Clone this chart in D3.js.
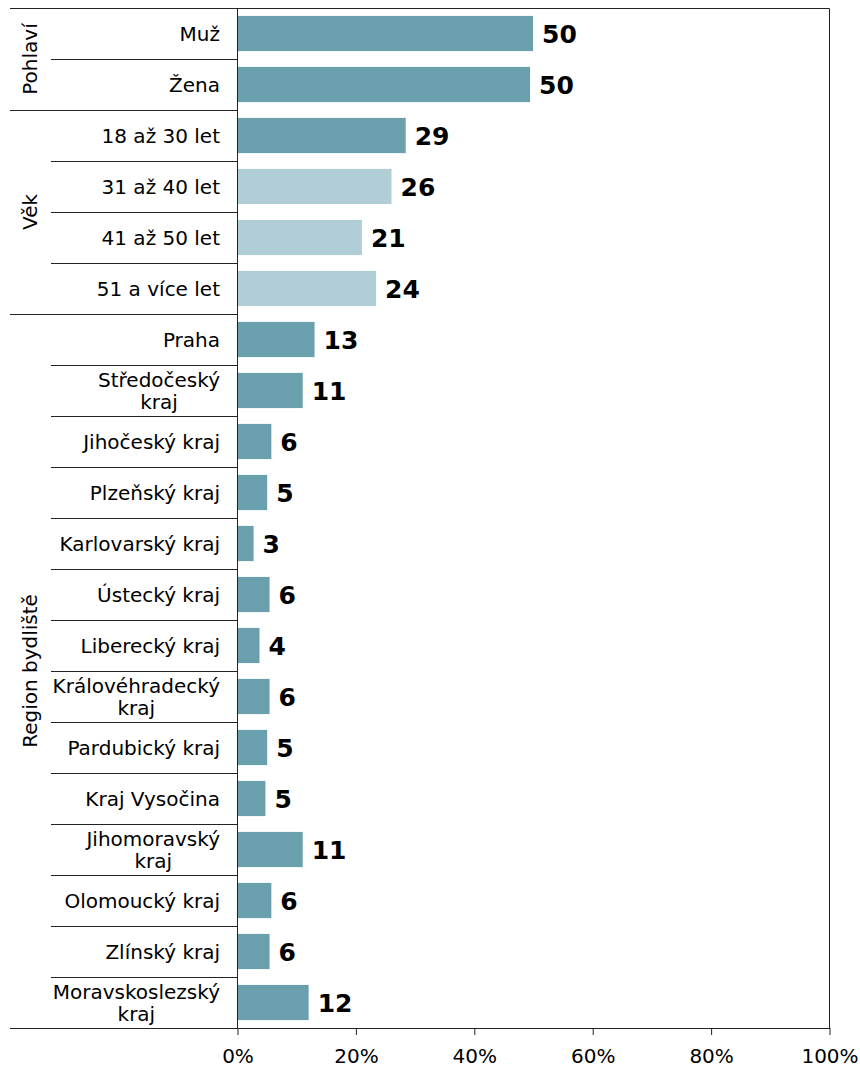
<!DOCTYPE html>
<html>
<head>
<meta charset="utf-8">
<script src="https://cdn.jsdelivr.net/npm/d3@7"></script>
<style>
  body { margin: 0; background: #fff; }
  svg text { font-family: "DejaVu Sans", Verdana, sans-serif; fill: #000; }
</style>
</head>
<body>
<svg id="chart" width="860" height="1070"></svg>
<script>
// Data
const groups = ['Pohlaví', 'Věk', 'Region bydliště']
const groupOf = [0, 0, 1, 1, 1, 1, 2, 2, 2, 2, 2, 2, 2, 2, 2, 2, 2, 2, 2, 2]
const categories = [
  'Muž', 'Žena',
  '18 až 30 let', '31 až 40 let', '41 až 50 let', '51 a více let',
  'Praha', 'Středočeský\nkraj', 'Jihočeský kraj', 'Plzeňský kraj', 'Karlovarský kraj',
  'Ústecký kraj', 'Liberecký kraj', 'Královéhradecký\nkraj', 'Pardubický kraj',
  'Kraj Vysočina', 'Jihomoravský\nkraj', 'Olomoucký kraj', 'Zlínský kraj',
  'Moravskoslezský\nkraj'
]
const values = [
  50.0, 49.5,
  28.5, 26.1, 21.1, 23.5,
  13.1, 11.1, 5.8, 5.1, 2.8, 5.5, 3.8, 5.5, 5.1, 4.8, 11.1, 5.8, 5.5, 12.1
]
const light = [0, 0, 0, 1, 1, 1, 0, 0, 0, 0, 0, 0, 0, 0, 0, 0, 0, 0, 0, 0]
const ticks = [0, 20, 40, 60, 80, 100]

// Layout
const width = 860
const height = 1070
const margin = { top: 8, right: 31, bottom: 42, left: 237 }
const colors = ['#6a9fad', '#b1ced6']
const lineColor = '#222'
const fontSize = '20px'

const svg = d3.select('#chart')

const x = d3.scaleLinear()
  .domain([0, 100])
  .range([margin.left, width - margin.right])

const y = d3.scaleBand()
  .domain(d3.range(categories.length))
  .range([margin.top, height - margin.bottom])
  .paddingInner(0.31)
  .paddingOuter(0.155)

const step = y.step()
const rowTop = i => margin.top + i * step
const plotTop = margin.top
const plotBottom = height - margin.bottom

// bars
svg.append('g')
  .selectAll('rect')
  .data(values)
  .join('rect')
  .attr('x', x(0))
  .attr('y', (d, i) => y(i))
  .attr('width', d => x(d) - x(0))
  .attr('height', y.bandwidth())
  .attr('fill', (d, i) => colors[light[i]])

// value labels
svg.append('g')
  .selectAll('text')
  .data(values)
  .join('text')
  .attr('x', d => x(d) + 9)
  .attr('y', (d, i) => y(i) + y.bandwidth() / 2)
  .attr('dy', '0.37em')
  .style('font-size', '25px')
  .style('font-weight', 'bold')
  .text(d => Math.round(d))

// row separators
const seps = svg.append('g')
  .attr('stroke', lineColor)
  .attr('stroke-width', 1)
d3.range(1, categories.length).forEach(i => {
  const newGroup = groupOf[i] !== groupOf[i - 1]
  const yy = Math.round(rowTop(i)) + 0.5
  seps.append('line')
    .attr('x1', newGroup ? 10 : 51)
    .attr('x2', x(0))
    .attr('y1', yy)
    .attr('y2', yy)
})

// frame: top, right, left axis, bottom extension
const yt = Math.round(plotTop) + 0.5
const yb = Math.round(plotBottom) + 0.5
const xl = Math.round(x(0)) + 0.5
const xr = Math.round(x(100)) + 0.5
seps.append('line').attr('x1', 10).attr('x2', xr).attr('y1', yt).attr('y2', yt)
seps.append('line').attr('x1', xr).attr('x2', xr).attr('y1', yt).attr('y2', yb)
seps.append('line').attr('x1', xl).attr('x2', xl).attr('y1', yt).attr('y2', yb)
seps.append('line').attr('x1', 10).attr('x2', xl).attr('y1', yb).attr('y2', yb)

// x axis
const xAxis = d3.axisBottom(x)
  .tickValues(ticks)
  .tickSize(7)
  .tickSizeOuter(0)
  .tickPadding(14)
  .tickFormat(d => d + '%')

const gx = svg.append('g')
  .attr('transform', `translate(0.5, ${Math.round(plotBottom)})`)
  .call(xAxis)
gx.select('.domain').attr('stroke', lineColor)
gx.selectAll('.tick line').attr('stroke', lineColor)
gx.selectAll('.tick text')
  .attr('fill', '#000')
  .style('font-family', '"DejaVu Sans", Verdana, sans-serif')
  .style('font-size', fontSize)

// category labels
const labelRight = 220
svg.append('g')
  .selectAll('text')
  .data(categories)
  .join('text')
  .style('font-size', fontSize)
  .each(function (d, i) {
    const lines = d.split('\n')
    const t = d3.select(this)
    const cy = rowTop(i) + step / 2
    if (lines.length === 1) {
      t.attr('x', labelRight)
        .attr('y', cy)
        .attr('dy', '0.36em')
        .attr('text-anchor', 'end')
        .text(d)
    } else {
      const lh = 22
      const spans = lines.map((ln, k) => t.append('tspan')
        .attr('y', cy + (k - (lines.length - 1) / 2) * lh)
        .attr('dy', '0.36em')
        .text(ln))
      const w = d3.max(spans, s => s.node().getComputedTextLength())
      t.attr('text-anchor', 'middle')
      spans.forEach(s => s.attr('x', labelRight - w / 2))
    }
  })

// group labels
groups.forEach((g, gi) => {
  const idx = groupOf.map((v, i) => v === gi ? i : -1).filter(i => i >= 0)
  const y0 = rowTop(d3.min(idx))
  const y1 = rowTop(d3.max(idx) + 1)
  const cy = (y0 + y1) / 2
  svg.append('text')
    .attr('transform', `translate(30, ${cy}) rotate(-90)`)
    .attr('text-anchor', 'middle')
    .attr('dy', '0.36em')
    .style('font-size', fontSize)
    .text(g)
})
</script>
</body>
</html>
